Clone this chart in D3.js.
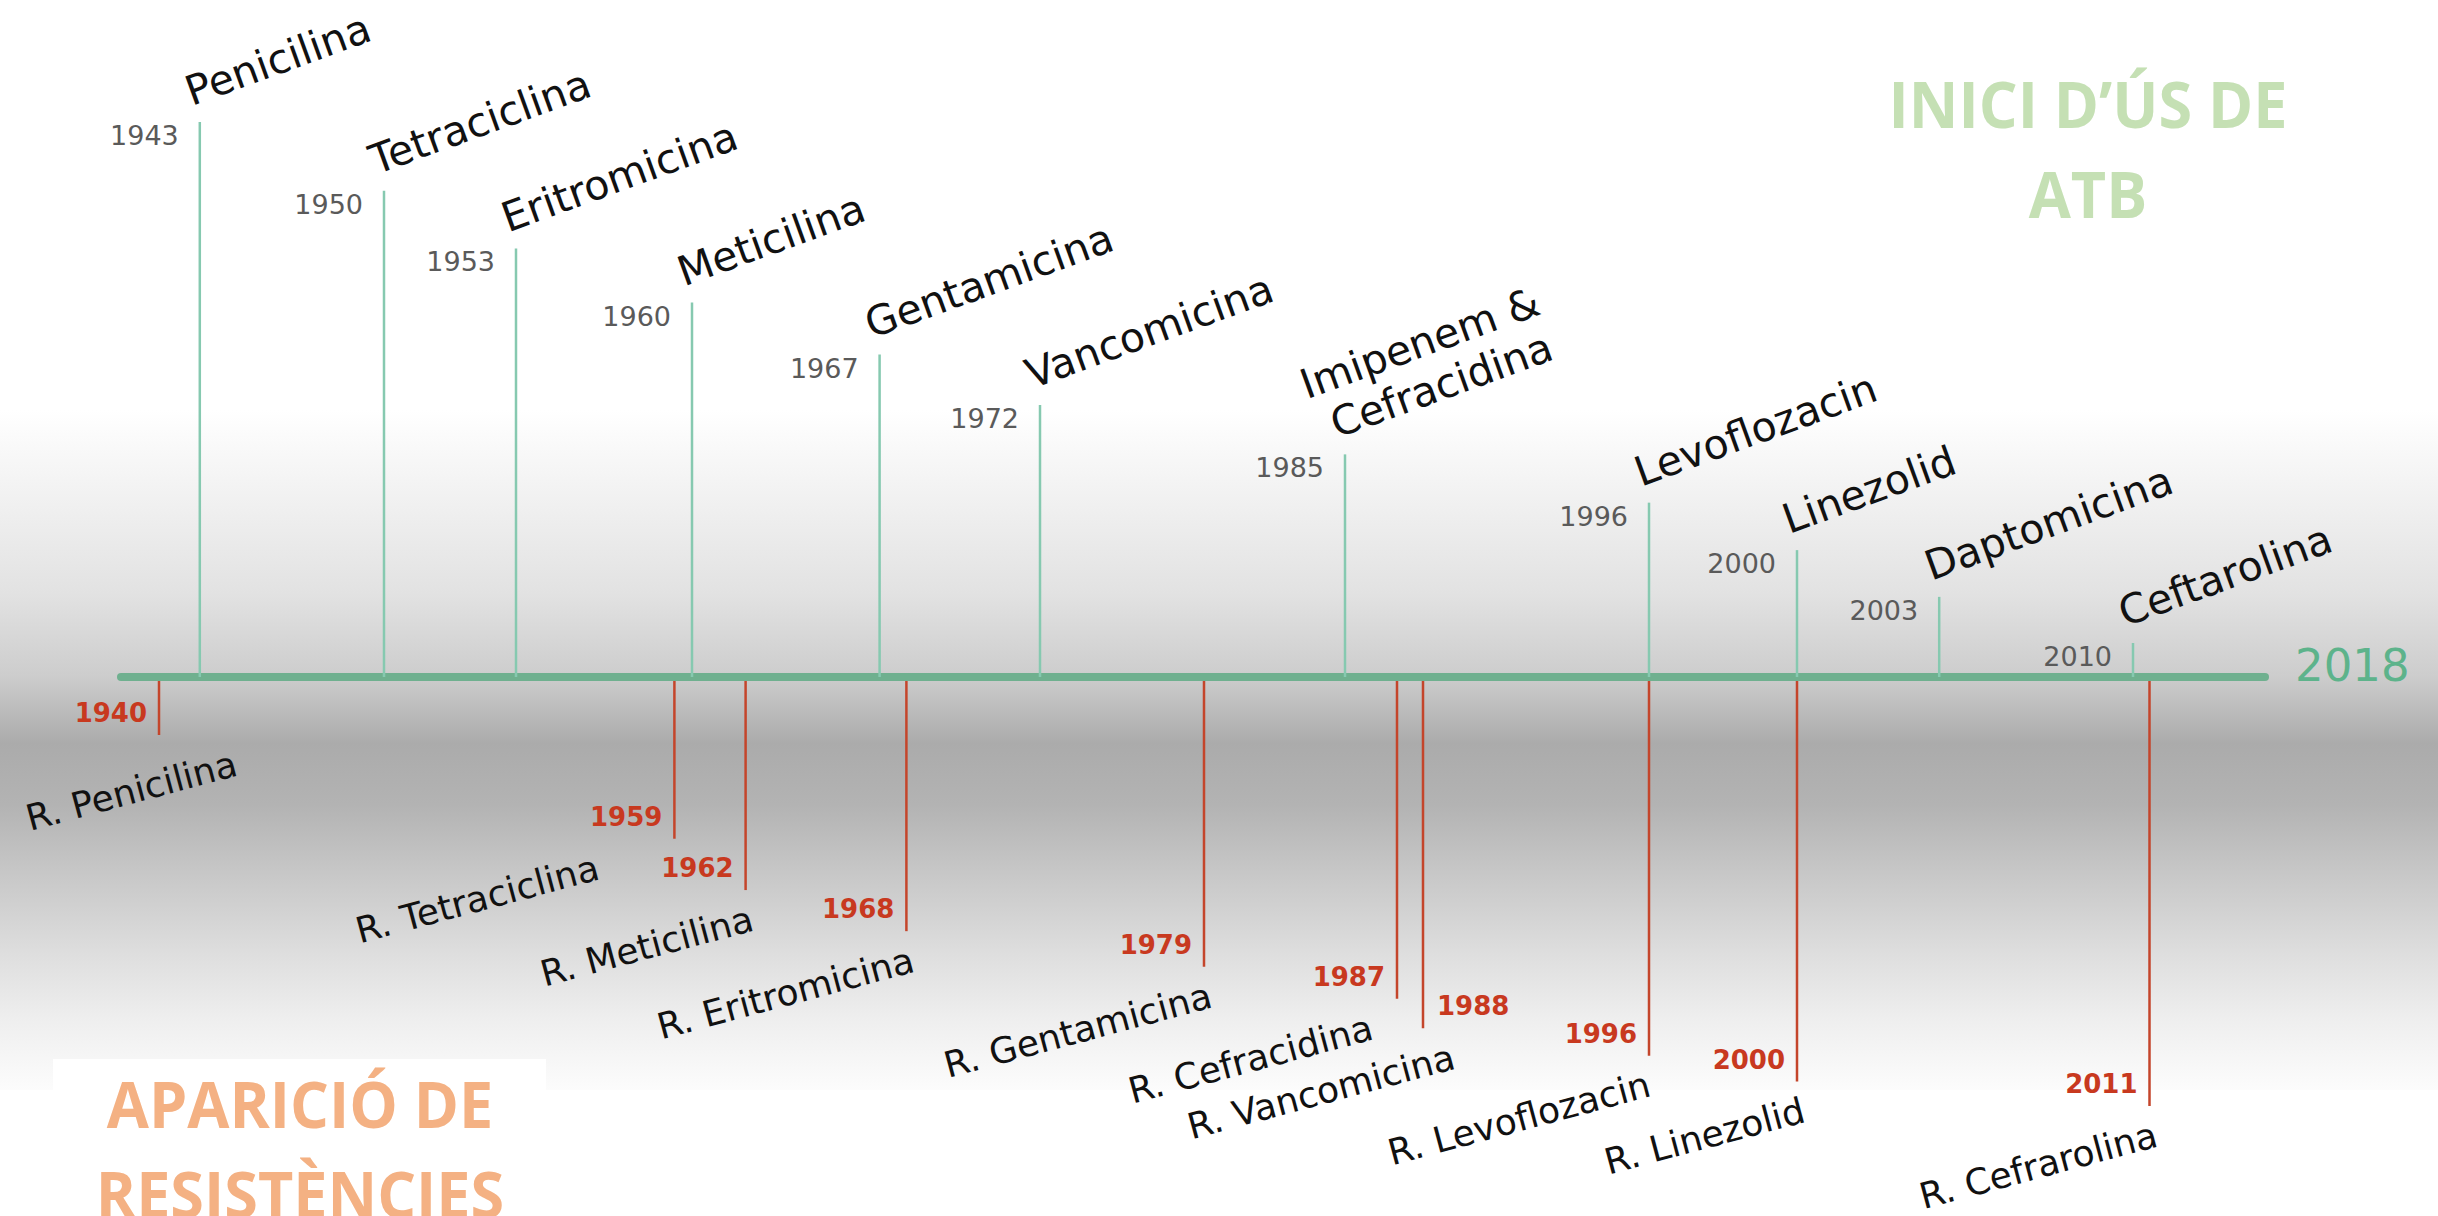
<!DOCTYPE html>
<html>
<head>
<meta charset="utf-8">
<script src="https://cdn.jsdelivr.net/npm/d3@7"></script>
<style>
  html, body { margin: 0; padding: 0; background: #fff; }
  svg { display: block; }
</style>
</head>
<body>
<svg id="chart"></svg>
<script>
// antibiotics: year they started to be used (above the line)
const drugs = [
    ["Penicilina"], ["Tetraciclina"], ["Eritromicina"], ["Meticilina"],
    ["Gentamicina"], ["Vancomicina"], ["Imipenem &", "Cefracidina"],
    ["Levoflozacin"], ["Linezolid"], ["Daptomicina"], ["Ceftarolina"]
];
const drugYears = [1943, 1950, 1953, 1960, 1967, 1972, 1985, 1996, 2000, 2003, 2010];

// first resistance found (below the line)
const resistances = [
    "R. Penicilina", "R. Tetraciclina", "R. Meticilina", "R. Eritromicina",
    "R. Gentamicina", "R. Cefracidina", "R. Vancomicina", "R. Levoflozacin",
    "R. Linezolid", "R. Cefrarolina"
];
const resistanceYears = [1940, 1959, 1962, 1968, 1979, 1987, 1988, 1996, 2000, 2011];

const lastYear = 2018;
const titleTop = ["INICI D’ÚS DE", "ATB"];
const titleBottom = ["APARICIÓ DE", "RESISTÈNCIES"];

const width = 2438;
const height = 1216;
const axisY = 677;
const font = "'DejaVu Sans', sans-serif";

const svg = d3.select("#chart").attr("width", width).attr("height", height);

// the original timeline is hand drawn: the years are not evenly spread,
// so the time scale is piecewise
const x = d3
    .scaleLinear()
    .domain([1938, 1940, 1945, 1950, 1955, 1960, 1970, 1975, 1980, 1990, 1995, 2000, 2005, 2010, 2018])
    .range([121, 159, 227, 384, 604, 692, 960, 1160, 1215, 1475, 1612, 1797, 2034, 2133, 2265]);

// stems get shorter from left to right (staircase look)
const topLen = d3.scalePow().exponent(0.88).domain([0, drugs.length - 1]).range([555, 34]);
const botLen = d3.scalePow().exponent(0.58).domain([0, resistances.length - 1]).range([58, 429]);

// grey band behind the timeline
const defs = svg.append("defs");
const grad = defs
    .append("linearGradient")
    .attr("id", "band")
    .attr("gradientUnits", "userSpaceOnUse")
    .attr("x1", 0).attr("y1", 410)
    .attr("x2", 0).attr("y2", 1090);
[
    [0, "#ffffff"], [0.27, "#e2e2e2"], [0.39, "#cdcdcd"], [0.49, "#ababab"],
    [0.58, "#b3b3b3"], [0.68, "#c7c7c7"], [0.8, "#dedede"], [0.9, "#efefef"], [1, "#fcfcfc"]
].forEach(([o, c]) => grad.append("stop").attr("offset", o).attr("stop-color", c));

svg.append("rect").attr("width", width).attr("height", height).attr("fill", "#fff");
svg.append("rect")
    .attr("y", 410).attr("width", width).attr("height", 680)
    .attr("fill", "url(#band)");

// white box behind the bottom title
svg.append("rect")
    .attr("x", 53).attr("y", 1059)
    .attr("width", 493).attr("height", height - 1059)
    .attr("fill", "#fff");

// main line
svg.append("line")
    .attr("x1", x(1938)).attr("x2", x(lastYear))
    .attr("y1", axisY).attr("y2", axisY)
    .attr("stroke", "#6fb08f")
    .attr("stroke-width", 8)
    .attr("stroke-linecap", "round");

svg.append("text")
    .attr("x", x(lastYear) + 30)
    .attr("y", axisY + 4)
    .attr("font-family", font)
    .attr("font-size", 45)
    .attr("fill", "#5db38b")
    .text(lastYear);

// ---- top: start of use
const topG = svg
    .append("g")
    .selectAll("g")
    .data(drugs.map((name, i) => ({ name, year: drugYears[i], i })))
    .join("g")
    .attr("transform", d => `translate(${x(d.year)},${axisY})`);

topG.append("line")
    .attr("y1", 0)
    .attr("y2", d => -topLen(d.i))
    .attr("stroke", "#86c9b0")
    .attr("stroke-width", 2.5);

topG.append("text")
    .attr("x", -21)
    .attr("y", d => -topLen(d.i) + 23)
    .attr("text-anchor", "end")
    .attr("font-family", font)
    .attr("font-size", 27)
    .attr("fill", "#5a5a5a")
    .text(d => d.year);

topG.append("text")
    .attr("transform", d => `translate(-8,${-topLen(d.i) - 16}) rotate(-20)`)
    .attr("font-family", font)
    .attr("font-size", 41)
    .attr("fill", "#111")
    .selectAll("tspan")
    .data(d => d.name.map((t, k) => ({ t, k, n: d.name.length })))
    .join("tspan")
    .attr("x", d => (d.k - d.n + 1) * 15)
    .attr("y", d => (d.k - d.n + 1) * 47)
    .text(d => d.t);

// ---- bottom: resistances
const botG = svg
    .append("g")
    .selectAll("g")
    .data(resistances.map((name, i) => ({ name, year: resistanceYears[i], i })))
    .join("g")
    .attr("transform", d => `translate(${x(d.year)},${axisY})`);

botG.append("line")
    .attr("y1", 4)
    .attr("y2", d => botLen(d.i))
    .attr("stroke", "#c4452b")
    .attr("stroke-width", 2.5);

// when two resistances are almost on top of each other, the year goes right
const close = i => i > 0 && i < resistanceYears.length && resistanceYears[i] - resistanceYears[i - 1] <= 2;

const yearBoxes = [];
botG.append("text")
    .attr("x", d => (close(d.i) ? 14 : -12))
    .attr("y", d => botLen(d.i) - 13)
    .attr("text-anchor", d => (close(d.i) ? "start" : "end"))
    .attr("font-family", font)
    .attr("font-weight", "bold")
    .attr("font-size", 26)
    .attr("fill", "#c8391f")
    .text(d => d.year)
    .each(function(d) {
        const b = this.getBBox();
        yearBoxes[d.i] = {
            x0: x(d.year) + b.x, x1: x(d.year) + b.x + b.width,
            y0: axisY + b.y, y1: axisY + b.y + b.height
        };
    });

const angle = 15;
botG.append("text")
    .attr("text-anchor", "end")
    .attr("font-family", font)
    .attr("font-size", 36)
    .attr("fill", "#111")
    .text(d => d.name)
    .each(function(d) {
        let dx = 10;
        if (close(d.i)) dx += 24;
        if (close(d.i + 1)) dx -= 32;
        const endY = axisY + botLen(d.i) + 40;
        // do not run into the next red year
        const nb = yearBoxes[d.i + 1];
        const endX = x(d.year) + dx;
        if (nb && !close(d.i + 1) && endY - 35 < nb.y1 && endY > nb.y0 && endX + 60 > nb.x0) {
            dx -= endX + 60 - nb.x0;
        }
        // keep the label inside the picture
        const len = this.getComputedTextLength() * Math.cos((angle * Math.PI) / 180);
        const left = x(d.year) + dx - len;
        if (left < 30) dx += 30 - left;
        d3.select(this).attr(
            "transform",
            `translate(${dx},${botLen(d.i) + 40}) rotate(${-angle})`
        );
    });

// ---- titles
function title(lines, cx, y0, color) {
    svg.append("g")
        .selectAll("text")
        .data(lines)
        .join("text")
        .attr("transform", (d, k) => `translate(${cx},${y0 + k * 90}) scale(0.94,1)`)
        .attr("text-anchor", "middle")
        .attr("font-family", "'Open Sans', sans-serif")
        .attr("font-weight", "bold")
        .attr("font-size", 65)
        .attr("fill", color)
        .text(d => d);
}
title(titleTop, 2088, 128, "#c5e0b4");
title(titleBottom, 300, 1128, "#f4b183");
</script>
</body>
</html>
